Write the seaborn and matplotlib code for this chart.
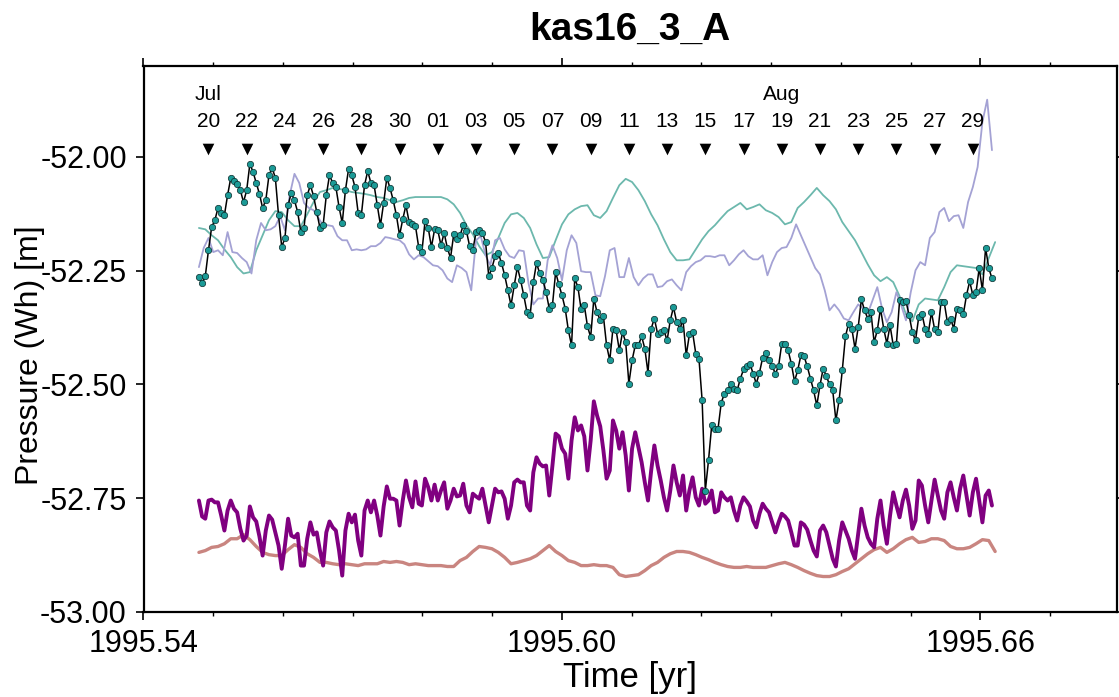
import numpy as np
import pandas as pd
import matplotlib
matplotlib.use("Agg")
import matplotlib.pyplot as plt
from matplotlib.ticker import FixedLocator, FormatStrFormatter
import seaborn as sns

sns.set_style("ticks")
plt.rcParams["font.family"] = ["Liberation Sans", "DejaVu Sans"]
plt.rcParams["axes.unicode_minus"] = False
plt.rcParams["text.color"] = "black"
plt.rcParams["axes.labelcolor"] = "black"
plt.rcParams["xtick.color"] = "black"
plt.rcParams["ytick.color"] = "black"

# ---------------------------------------------------------------------------
# Station kas16_3_A, bottom pressure expressed as water height [m]
# All series start 1995-07-20 00:00 UTC (day 200.0 after Jan 1).
# ---------------------------------------------------------------------------
START_DAY = 200.0
YEAR_DAYS = 365.0

# observed pressure, 4-hourly
pressure_obs = [
    -52.264, -52.278, -52.262, -52.205, -52.154, -52.139, -52.112, -52.123, -52.128, -52.084,
    -52.046, -52.053, -52.059, -52.073, -52.099, -52.073, -52.015, -52.033, -52.057, -52.081,
    -52.112, -52.095, -52.040, -52.024, -52.046, -52.128, -52.198, -52.178, -52.106, -52.079,
    -52.095, -52.121, -52.165, -52.156, -52.084, -52.062, -52.086, -52.121, -52.156, -52.150,
    -52.084, -52.040, -52.057, -52.066, -52.110, -52.145, -52.073, -52.026, -52.040, -52.066,
    -52.123, -52.128, -52.062, -52.031, -52.057, -52.062, -52.106, -52.150, -52.101, -52.046,
    -52.068, -52.095, -52.128, -52.172, -52.137, -52.106, -52.143, -52.148, -52.152, -52.198,
    -52.209, -52.141, -52.156, -52.198, -52.159, -52.161, -52.194, -52.167, -52.200, -52.222,
    -52.170, -52.181, -52.172, -52.150, -52.163, -52.196, -52.205, -52.165, -52.161, -52.167,
    -52.187, -52.262, -52.244, -52.218, -52.211, -52.233, -52.260, -52.293, -52.326, -52.282,
    -52.242, -52.271, -52.304, -52.341, -52.348, -52.275, -52.233, -52.256, -52.271, -52.297,
    -52.333, -52.326, -52.253, -52.280, -52.304, -52.333, -52.381, -52.414, -52.267, -52.286,
    -52.335, -52.326, -52.372, -52.396, -52.311, -52.341, -52.359, -52.350, -52.414, -52.447,
    -52.377, -52.381, -52.425, -52.385, -52.407, -52.498, -52.447, -52.414, -52.414, -52.394,
    -52.421, -52.474, -52.377, -52.355, -52.388, -52.385, -52.381, -52.403, -52.359, -52.330,
    -52.363, -52.377, -52.359, -52.436, -52.390, -52.385, -52.432, -52.443, -52.535, -52.733,
    -52.667, -52.590, -52.597, -52.597, -52.540, -52.520, -52.513, -52.498, -52.509, -52.513,
    -52.487, -52.467, -52.460, -52.454, -52.476, -52.498, -52.474, -52.441, -52.430, -52.447,
    -52.460, -52.476, -52.460, -52.410, -52.412, -52.425, -52.454, -52.493, -52.469, -52.436,
    -52.438, -52.460, -52.487, -52.513, -52.546, -52.502, -52.465, -52.482, -52.500, -52.513,
    -52.579, -52.535, -52.469, -52.394, -52.366, -52.377, -52.421, -52.374, -52.313, -52.337,
    -52.355, -52.341, -52.407, -52.381, -52.333, -52.377, -52.410, -52.370, -52.414, -52.410,
    -52.315, -52.319, -52.317, -52.348, -52.385, -52.403, -52.352, -52.344, -52.377, -52.388,
    -52.341, -52.379, -52.385, -52.319, -52.319, -52.363, -52.355, -52.377, -52.333, -52.337,
    -52.346, -52.304, -52.273, -52.304, -52.297, -52.244, -52.293, -52.200, -52.244, -52.267,
]

# predicted tide, 4-hourly
tide_pred = [
    -52.755, -52.790, -52.795, -52.755, -52.753, -52.759, -52.759, -52.788, -52.821, -52.777,
    -52.755, -52.773, -52.781, -52.817, -52.843, -52.832, -52.768, -52.792, -52.801, -52.834,
    -52.876, -52.821, -52.788, -52.797, -52.825, -52.854, -52.905, -52.854, -52.795, -52.832,
    -52.836, -52.828, -52.898, -52.898, -52.839, -52.803, -52.830, -52.825, -52.865, -52.898,
    -52.825, -52.801, -52.814, -52.821, -52.865, -52.920, -52.821, -52.784, -52.803, -52.786,
    -52.843, -52.876, -52.777, -52.755, -52.781, -52.755, -52.788, -52.832, -52.768, -52.724,
    -52.751, -52.751, -52.755, -52.810, -52.755, -52.711, -52.748, -52.770, -52.713, -52.762,
    -52.766, -52.707, -52.726, -52.755, -52.720, -52.755, -52.733, -52.715, -52.773, -52.755,
    -52.729, -52.746, -52.744, -52.718, -52.766, -52.781, -52.740, -52.746, -52.751, -52.729,
    -52.766, -52.803, -52.766, -52.729, -52.737, -52.735, -52.751, -52.795, -52.766, -52.715,
    -52.709, -52.715, -52.715, -52.766, -52.777, -52.693, -52.660, -52.674, -52.680, -52.678,
    -52.744, -52.678, -52.608, -52.614, -52.641, -52.652, -52.707, -52.623, -52.572, -52.601,
    -52.590, -52.614, -52.689, -52.623, -52.537, -52.568, -52.592, -52.645, -52.707, -52.689,
    -52.579, -52.601, -52.641, -52.605, -52.656, -52.733, -52.641, -52.605, -52.638, -52.671,
    -52.715, -52.755, -52.689, -52.634, -52.678, -52.711, -52.748, -52.777, -52.733, -52.678,
    -52.715, -52.744, -52.700, -52.777, -52.733, -52.704, -52.748, -52.766, -52.729, -52.762,
    -52.755, -52.733, -52.781, -52.777, -52.737, -52.748, -52.755, -52.748, -52.777, -52.799,
    -52.766, -52.748, -52.757, -52.768, -52.799, -52.814, -52.784, -52.762, -52.773, -52.781,
    -52.803, -52.825, -52.803, -52.784, -52.790, -52.799, -52.825, -52.854, -52.854, -52.803,
    -52.808, -52.819, -52.843, -52.865, -52.878, -52.821, -52.810, -52.825, -52.854, -52.883,
    -52.900, -52.843, -52.803, -52.821, -52.839, -52.865, -52.883, -52.828, -52.773, -52.810,
    -52.836, -52.850, -52.858, -52.795, -52.755, -52.810, -52.850, -52.788, -52.737, -52.766,
    -52.792, -52.755, -52.731, -52.766, -52.817, -52.799, -52.711, -52.722, -52.766, -52.803,
    -52.755, -52.709, -52.744, -52.777, -52.795, -52.737, -52.715, -52.748, -52.777, -52.729,
    -52.700, -52.744, -52.788, -52.737, -52.707, -52.755, -52.803, -52.744, -52.733, -52.766,
]

# ocean model A, 8-hourly
ocean_model_a = [
    -52.156, -52.159, -52.172, -52.183, -52.203, -52.220, -52.242, -52.256, -52.253, -52.205,
    -52.172, -52.139, -52.119, -52.121, -52.139, -52.152, -52.152, -52.126, -52.099, -52.077,
    -52.073, -52.068, -52.070, -52.073, -52.077, -52.079, -52.081, -52.084, -52.088, -52.090,
    -52.095, -52.099, -52.095, -52.090, -52.088, -52.088, -52.088, -52.088, -52.088, -52.093,
    -52.104, -52.123, -52.150, -52.170, -52.196, -52.216, -52.209, -52.178, -52.145, -52.126,
    -52.123, -52.134, -52.156, -52.192, -52.222, -52.220, -52.183, -52.148, -52.126, -52.115,
    -52.108, -52.106, -52.128, -52.134, -52.119, -52.090, -52.062, -52.048, -52.055, -52.073,
    -52.097, -52.126, -52.150, -52.181, -52.209, -52.227, -52.227, -52.225, -52.203, -52.181,
    -52.163, -52.150, -52.134, -52.119, -52.110, -52.101, -52.115, -52.110, -52.104, -52.117,
    -52.123, -52.132, -52.148, -52.143, -52.112, -52.099, -52.084, -52.068, -52.084, -52.097,
    -52.115, -52.143, -52.163, -52.183, -52.209, -52.236, -52.260, -52.273, -52.264, -52.275,
    -52.306, -52.346, -52.361, -52.324, -52.311, -52.313, -52.315, -52.286, -52.253, -52.238,
    -52.240, -52.242, -52.244, -52.258, -52.222, -52.187,
]

# ocean model B, 6-hourly
ocean_model_b = [
    -52.242, -52.200, -52.178, -52.209, -52.205, -52.216, -52.165, -52.209, -52.211, -52.222,
    -52.231, -52.256, -52.183, -52.145, -52.161, -52.159, -52.152, -52.130, -52.161, -52.084,
    -52.037, -52.057, -52.101, -52.112, -52.117, -52.134, -52.150, -52.150, -52.152, -52.174,
    -52.183, -52.183, -52.205, -52.203, -52.205, -52.203, -52.196, -52.196, -52.189, -52.176,
    -52.178, -52.181, -52.183, -52.192, -52.214, -52.225, -52.216, -52.220, -52.229, -52.238,
    -52.240, -52.249, -52.267, -52.275, -52.238, -52.244, -52.253, -52.293, -52.183, -52.174,
    -52.216, -52.238, -52.183, -52.178, -52.203, -52.218, -52.222, -52.205, -52.207, -52.278,
    -52.324, -52.311, -52.311, -52.227, -52.194, -52.222, -52.271, -52.205, -52.172, -52.189,
    -52.251, -52.253, -52.253, -52.304, -52.306, -52.262, -52.205, -52.200, -52.264, -52.264,
    -52.222, -52.264, -52.282, -52.267, -52.258, -52.258, -52.286, -52.284, -52.273, -52.269,
    -52.282, -52.293, -52.253, -52.240, -52.231, -52.227, -52.218, -52.218, -52.220, -52.216,
    -52.216, -52.238, -52.227, -52.214, -52.205, -52.218, -52.225, -52.225, -52.216, -52.260,
    -52.231, -52.209, -52.200, -52.198, -52.178, -52.148, -52.172, -52.196, -52.220, -52.244,
    -52.258, -52.293, -52.337, -52.324, -52.337, -52.355, -52.359, -52.341, -52.324, -52.333,
    -52.344, -52.315, -52.286, -52.333, -52.363, -52.341, -52.297, -52.326, -52.359, -52.297,
    -52.249, -52.231, -52.238, -52.178, -52.165, -52.121, -52.112, -52.141, -52.130, -52.128,
    -52.156, -52.099, -52.066, -52.022, -51.923, -51.874, -51.985,
]

# long-period background, 8-hourly
background = [
    -52.869, -52.865, -52.858, -52.856, -52.850, -52.839, -52.839, -52.830, -52.841, -52.856,
    -52.869, -52.874, -52.876, -52.876, -52.863, -52.852, -52.858, -52.872, -52.880, -52.891,
    -52.891, -52.894, -52.896, -52.894, -52.896, -52.898, -52.894, -52.894, -52.894, -52.889,
    -52.891, -52.889, -52.891, -52.896, -52.894, -52.896, -52.898, -52.898, -52.898, -52.900,
    -52.900, -52.887, -52.880, -52.867, -52.856, -52.858, -52.861, -52.869, -52.880, -52.894,
    -52.891, -52.887, -52.883, -52.876, -52.865, -52.854, -52.867, -52.876, -52.887, -52.891,
    -52.898, -52.898, -52.896, -52.898, -52.898, -52.902, -52.918, -52.922, -52.920, -52.918,
    -52.909, -52.898, -52.891, -52.880, -52.872, -52.867, -52.867, -52.869, -52.874, -52.880,
    -52.885, -52.891, -52.896, -52.900, -52.902, -52.902, -52.900, -52.902, -52.902, -52.902,
    -52.898, -52.894, -52.891, -52.896, -52.902, -52.909, -52.915, -52.920, -52.922, -52.922,
    -52.918, -52.911, -52.905, -52.894, -52.883, -52.872, -52.863, -52.858, -52.869, -52.861,
    -52.850, -52.841, -52.836, -52.847, -52.845, -52.839, -52.839, -52.843, -52.856, -52.861,
    -52.861, -52.858, -52.850, -52.841, -52.843, -52.867,
]

# axis ticks
x_major_ticks = [1995.54, 1995.60, 1995.66]
y_major_ticks = [-53.00, -52.75, -52.50, -52.25, -52.00]

# calendar markers every second day, with month names
marker_dates = pd.date_range("1995-07-20", "1995-08-29", freq="2D")
month_labels = {"Jul": "1995-07-20", "Aug": "1995-08-19"}


def to_year(day):
    """Days elapsed since 1995-01-01 00:00 -> decimal year."""
    return 1995.0 + np.asarray(day, dtype=float) / YEAR_DAYS


def sample_times(values, step_hours):
    return to_year(START_DAY + np.arange(len(values)) * step_hours / 24.0)


def noon_year(ts):
    return to_year(pd.Timestamp(ts).dayofyear - 0.5)


W, H = 1119, 697
fig = plt.figure(figsize=(W / 100, H / 100), dpi=100)
ax = fig.add_axes([143.5 / W, 85 / H, 973.5 / W, 546 / H])

sns.lineplot(x=sample_times(background, 8), y=background, ax=ax,
             color="#c98580", linewidth=2.4, estimator=None, sort=False)
sns.lineplot(x=sample_times(tide_pred, 4), y=tide_pred, ax=ax,
             color="#800080", linewidth=2.8, estimator=None, sort=False)
sns.lineplot(x=sample_times(ocean_model_a, 8), y=ocean_model_a, ax=ax,
             color="#6cb8ad", linewidth=1.3, estimator=None, sort=False)
sns.lineplot(x=sample_times(ocean_model_b, 6), y=ocean_model_b, ax=ax,
             color="#a4a2d4", linewidth=1.3, estimator=None, sort=False)
sns.lineplot(x=sample_times(pressure_obs, 4), y=pressure_obs, ax=ax,
             color="black", linewidth=1.1, estimator=None, sort=False,
             marker="o", markersize=4.6, markerfacecolor="#1b9a96",
             markeredgecolor="#0a2a2a", markeredgewidth=0.5)

ax.set_xlim(1995.54, 1995.54 + 973.5 / 6975)
ax.set_ylim(-53.0, -51.8)

# calendar annotations above the curves
tri_y, day_y, mon_y = -51.982, -51.921, -51.862
mx = np.array([noon_year(d) for d in marker_dates])
sns.scatterplot(x=mx, y=np.full(len(mx), tri_y), ax=ax, marker="v",
                s=70, color="black", edgecolor="black", linewidth=0)
for d, x in zip(marker_dates, mx):
    ax.text(x, day_y, d.strftime("%d"), ha="center", va="center", fontsize=15)
for name, d in month_labels.items():
    ax.text(noon_year(d), mon_y, name, ha="center", va="center", fontsize=15)

# frame and ticks
ax.xaxis.set_major_locator(FixedLocator(x_major_ticks))
ax.xaxis.set_minor_locator(FixedLocator(np.round(np.arange(1995.54, 1995.681, 0.01), 2)))
ax.xaxis.set_major_formatter(FormatStrFormatter("%.2f"))
ax.yaxis.set_major_locator(FixedLocator(y_major_ticks))
ax.yaxis.set_major_formatter(FormatStrFormatter("%.2f"))
ax.tick_params(which="both", direction="out", top=True, right=True,
               labeltop=False, labelright=False, colors="black")
ax.tick_params(which="major", length=6, width=1.2, labelsize=22, pad=6)
ax.tick_params(which="minor", length=3, width=1.0)
for sp in ax.spines.values():
    sp.set_linewidth(1.6)
    sp.set_color("black")
ax.set_xlabel("")
ax.set_ylabel("")

fig.text(630 / W, 1 - 30 / H, "kas16_3_A", ha="center", va="center",
         fontsize=28, fontweight="bold", color="black")
fig.text(630 / W, 1 - 678 / H, "Time [yr]", ha="center", va="center",
         fontsize=25, color="black")
fig.text(30 / W, 1 - 355 / H, "Pressure (Wh) [m]", ha="center", va="center",
         fontsize=23, rotation=90, color="black")

fig.savefig("out.png", dpi=100)
